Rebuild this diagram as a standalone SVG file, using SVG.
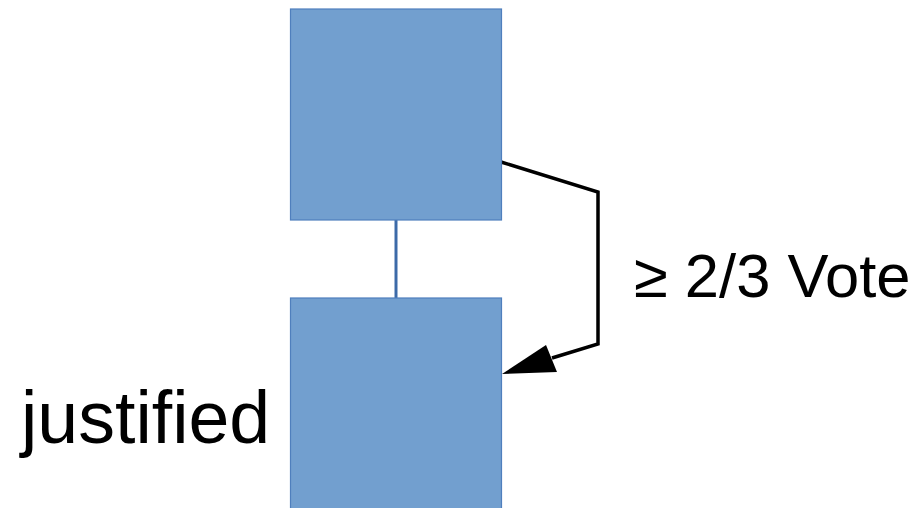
<svg xmlns="http://www.w3.org/2000/svg" width="921" height="508" viewBox="0 0 921 508">
  <defs>
    <style>
      .block { fill: #729fcf; stroke: #4f7fbd; stroke-width: 1.2; }
      .label { font-family: "Liberation Sans", Arial, sans-serif; fill: #000; }
    </style>
  </defs>
  <rect width="921" height="508" fill="#fff"/>
  <g id="connectors">
    <line x1="396" y1="220" x2="396" y2="298" stroke="#3c6aa8" stroke-width="3"/>
    <polyline points="501,162 598,192 598,344 552,358" fill="none" stroke="#000" stroke-width="3.5" stroke-linejoin="miter"/>
    <polygon points="502,374 546,345 557,372" fill="#000"/>
  </g>
  <g id="block-top">
    <rect class="block" x="290.5" y="9" width="211" height="211"/>
  </g>
  <g id="block-justified">
    <rect class="block" x="290.5" y="298" width="211" height="212"/>
    <text class="label" x="21" y="443" font-size="73.5">justified</text>
  </g>
  <g id="vote-label">
    <text class="label" x="634" y="297" font-size="61.5">≥ 2/3 Vote</text>
  </g>
</svg>
